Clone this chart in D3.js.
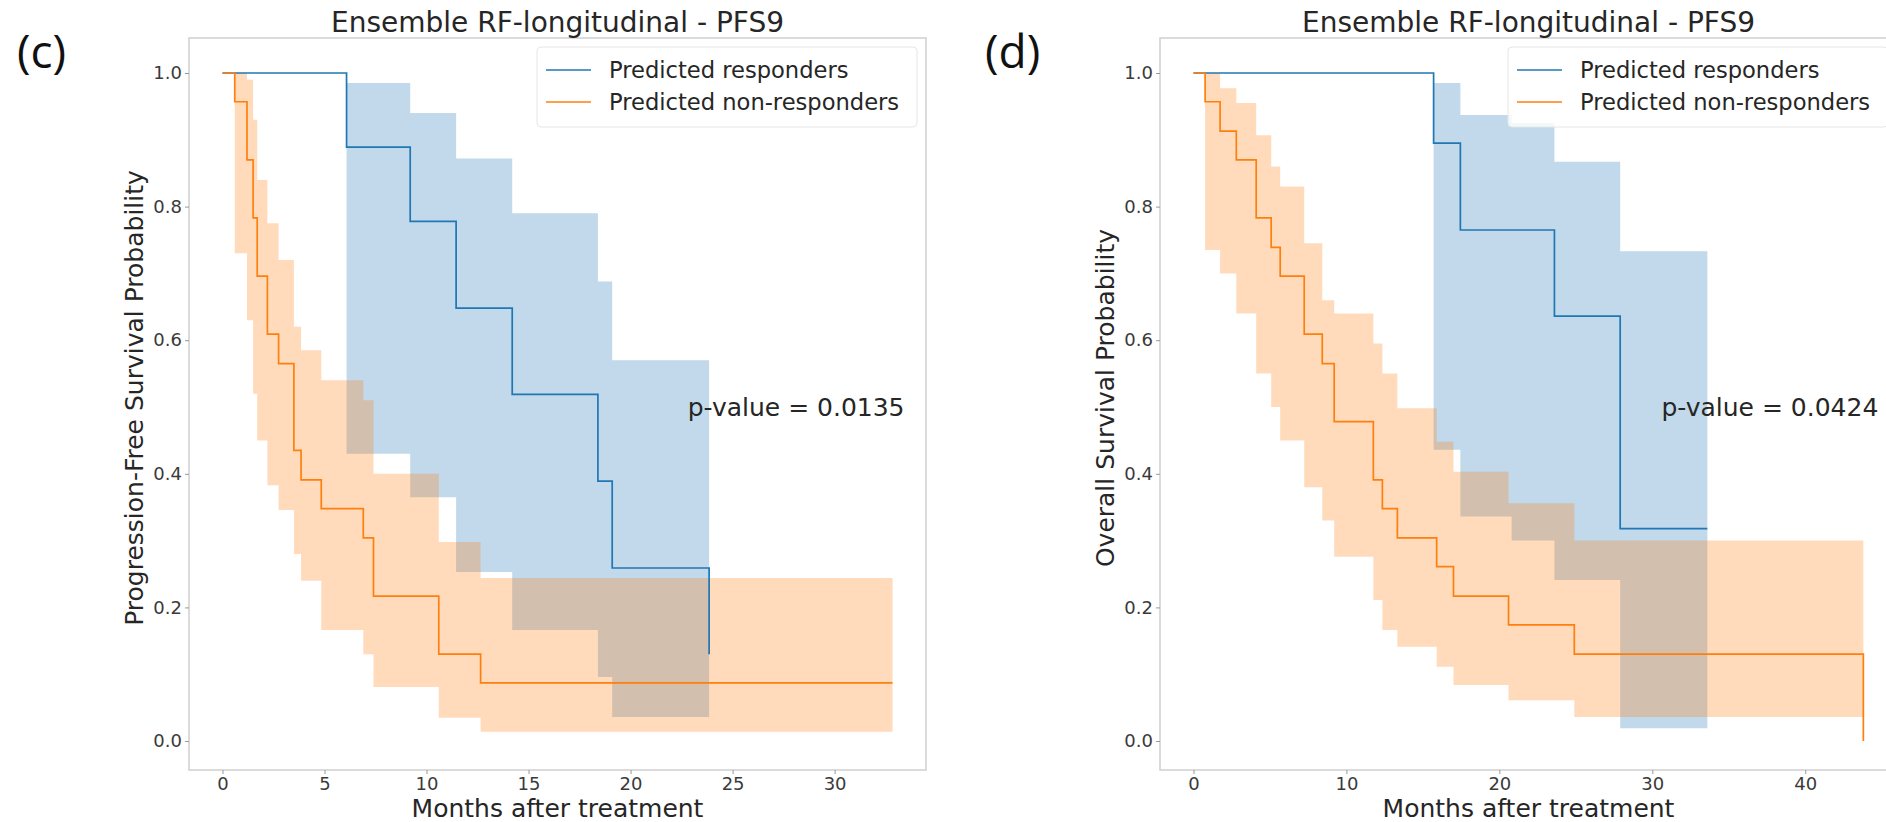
<!DOCTYPE html>
<html>
<head>
<meta charset="utf-8">
<script src="https://cdn.jsdelivr.net/npm/d3@7"></script>
<style>
    body { margin: 0; background: #fff; }
    svg { display: block; font-family: "DejaVu Sans", sans-serif; }
</style>
</head>
<body>
<svg id="chart" width="1886" height="822"></svg>
<script>
// Panel (c) - progression-free survival
const respC_t  = [0, 6.08, 9.2, 11.45, 14.2, 18.4, 19.1, 23.85];
const respC_s  = [1.0, 0.889, 0.778, 0.648, 0.519, 0.389, 0.259, 0.130];
const respC_lo = [1.0, 0.43, 0.365, 0.253, 0.166, 0.096, 0.036, 0.036];
const respC_hi = [1.0, 0.985, 0.94, 0.872, 0.79, 0.688, 0.57, 0.57];

const nonC_t  = [0, 0.6, 1.2, 1.5, 1.7, 2.2, 2.75, 3.5, 3.85, 4.84, 6.9, 7.4, 10.6, 12.65, 32.84];
const nonC_s  = [1.0, 0.957, 0.870, 0.783, 0.696, 0.609, 0.565, 0.435, 0.391, 0.348, 0.304, 0.217, 0.130, 0.087, 0.087];
const nonC_lo = [1.0, 0.73, 0.63, 0.52, 0.45, 0.383, 0.346, 0.28, 0.24, 0.166, 0.13, 0.081, 0.035, 0.014, 0.014];
const nonC_hi = [1.0, 1.0, 0.99, 0.93, 0.84, 0.775, 0.72, 0.62, 0.585, 0.54, 0.51, 0.40, 0.298, 0.244, 0.244];

// Panel (d) - overall survival
const respD_t  = [0, 15.7, 17.45, 20.8, 23.6, 27.9, 33.6];
const respD_s  = [1.0, 0.895, 0.765, 0.765, 0.636, 0.318, 0.318];
const respD_lo = [1.0, 0.436, 0.336, 0.30, 0.241, 0.019, 0.019];
const respD_hi = [1.0, 0.985, 0.937, 0.925, 0.867, 0.733, 0.733];

const nonD_t  = [0, 0.76, 1.74, 2.8, 4.1, 5.08, 5.67, 7.24, 8.42, 9.2, 11.76, 12.35, 13.33, 15.9, 17.0, 20.6, 24.9, 43.8];
const nonD_s  = [1.0, 0.957, 0.913, 0.870, 0.783, 0.739, 0.696, 0.609, 0.565, 0.478, 0.391, 0.348, 0.304, 0.261, 0.217, 0.174, 0.130, 0.0];
const nonD_lo = [1.0, 0.735, 0.70, 0.64, 0.55, 0.50, 0.45, 0.38, 0.33, 0.276, 0.211, 0.166, 0.141, 0.111, 0.084, 0.061, 0.036, 0.036];
const nonD_hi = [1.0, 1.0, 0.977, 0.955, 0.907, 0.86, 0.83, 0.745, 0.66, 0.64, 0.595, 0.55, 0.498, 0.448, 0.403, 0.356, 0.30, 0.30];

// Axis ticks and labels
const xTicksC = [0, 5, 10, 15, 20, 25, 30];
const xTicksD = [0, 10, 20, 30, 40];
const yTicks = [0.0, 0.2, 0.4, 0.6, 0.8, 1.0];
const legendLabels = ["Predicted responders", "Predicted non-responders"];
const titleText = "Ensemble RF-longitudinal - PFS9";

const colors = { resp: "#1f77b4", non: "#ff7f0e" };

const svg = d3.select("#chart");

const toRows = (t, s, lo, hi) => t.map((d, i) => ({ t: d, s: s[i], lo: lo[i], hi: hi[i] }));

const renderPanel = (p) => {
    const top = 38, bottom = 770;
    const g = svg.append("g");

    const x = d3.scaleLinear().domain(p.xDomain).range([p.left, p.right]);
    const y = d3.scaleLinear().domain([-0.0434, 1.0524]).range([bottom, top]);

    const area = d3.area()
        .curve(d3.curveStepAfter)
        .x(d => x(d.t))
        .y0(d => y(d.lo))
        .y1(d => y(d.hi));

    const line = d3.line()
        .curve(d3.curveStepAfter)
        .x(d => x(d.t))
        .y(d => y(d.s));

    // confidence bands
    p.series.forEach(s => {
        g.append("path")
            .datum(s.rows)
            .attr("fill", s.color)
            .attr("fill-opacity", 0.28)
            .attr("d", area);
    });

    // survival curves
    p.series.forEach(s => {
        g.append("path")
            .datum(s.rows)
            .attr("fill", "none")
            .attr("stroke", s.color)
            .attr("stroke-width", 1.7)
            .attr("d", line);
    });

    // frame
    g.append("rect")
        .attr("x", p.left)
        .attr("y", top)
        .attr("width", p.right - p.left)
        .attr("height", bottom - top)
        .attr("fill", "none")
        .attr("stroke", "#cfcfcf")
        .attr("stroke-width", 1.5);

    g.append("g")
        .attr("transform", `translate(0,${bottom})`)
        .call(d3.axisBottom(x).tickValues(p.xTicks).tickSize(4).tickPadding(3).tickFormat(d3.format("d")))
        .call(a => a.select(".domain").remove())
        .call(a => a.selectAll(".tick line").attr("stroke", "#999"))
        .call(a => a.selectAll("text").attr("font-size", 18).attr("fill", "#3a3a3a").attr("font-family", "DejaVu Sans"));

    g.append("g")
        .attr("transform", `translate(${p.left},0)`)
        .call(d3.axisLeft(y).tickValues(yTicks).tickSize(4).tickPadding(3).tickFormat(d3.format(".1f")))
        .call(a => a.select(".domain").remove())
        .call(a => a.selectAll(".tick line").attr("stroke", "#999"))
        .call(a => a.selectAll("text").attr("font-size", 18).attr("fill", "#3a3a3a").attr("font-family", "DejaVu Sans"));

    const cx = (p.left + p.right) / 2;

    g.append("text")
        .attr("x", cx)
        .attr("y", 32)
        .attr("text-anchor", "middle")
        .attr("font-size", 28)
        .attr("fill", "#262626")
        .text(titleText);

    g.append("text")
        .attr("x", cx)
        .attr("y", 817)
        .attr("text-anchor", "middle")
        .attr("font-size", 25)
        .attr("fill", "#262626")
        .text("Months after treatment");

    g.append("text")
        .attr("transform", `translate(${p.left - 46},${(top + bottom) / 2 - 6}) rotate(-90)`)
        .attr("text-anchor", "middle")
        .attr("font-size", 25)
        .attr("fill", "#262626")
        .text(p.yLabel);

    // p-value
    g.append("text")
        .attr("x", x(p.pPos[0]))
        .attr("y", y(p.pPos[1]))
        .attr("dominant-baseline", "central")
        .attr("font-size", 25)
        .attr("fill", "#262626")
        .text(p.pText);

    // panel letter
    svg.append("text")
        .attr("x", p.letterX)
        .attr("y", 68)
        .attr("font-family", "Open Sans")
        .attr("font-size", 46)
        .attr("fill", "#111")
        .text(p.letter);

    // legend
    const lw = 380, lx = p.right - 9 - lw, ly = 47;
    const leg = g.append("g");
    leg.append("rect")
        .attr("x", lx)
        .attr("y", ly)
        .attr("width", lw)
        .attr("height", 80)
        .attr("rx", 4)
        .attr("fill", "#fff")
        .attr("fill-opacity", 0.8)
        .attr("stroke", "#e6e6e6");
    p.series.forEach((s, i) => {
        const yy = ly + 23 + i * 32;
        leg.append("line")
            .attr("x1", lx + 9)
            .attr("x2", lx + 54)
            .attr("y1", yy)
            .attr("y2", yy)
            .attr("stroke", s.color)
            .attr("stroke-width", 1.7);
        leg.append("text")
            .attr("x", lx + 72)
            .attr("y", yy)
            .attr("dominant-baseline", "central")
            .attr("font-size", 22.6)
            .attr("fill", "#262626")
            .text(legendLabels[i]);
    });
};

renderPanel({
    left: 189, right: 926,
    xDomain: [-1.642, 34.48],
    xTicks: xTicksC,
    yLabel: "Progression-Free Survival Probability",
    pText: "p-value = 0.0135",
    pPos: [22.8, 0.5],
    letter: "(c)", letterX: 17,
    series: [
        { color: colors.resp, rows: toRows(respC_t, respC_s, respC_lo, respC_hi) },
        { color: colors.non, rows: toRows(nonC_t, nonC_s, nonC_lo, nonC_hi) }
    ]
});

renderPanel({
    left: 1160, right: 1897,
    xDomain: [-2.19, 46.0],
    xTicks: xTicksD,
    yLabel: "Overall Survival Probability",
    pText: "p-value = 0.0424",
    pPos: [30.6, 0.5],
    letter: "(d)", letterX: 985,
    series: [
        { color: colors.resp, rows: toRows(respD_t, respD_s, respD_lo, respD_hi) },
        { color: colors.non, rows: toRows(nonD_t, nonD_s, nonD_lo, nonD_hi) }
    ]
});
</script>
</body>
</html>
